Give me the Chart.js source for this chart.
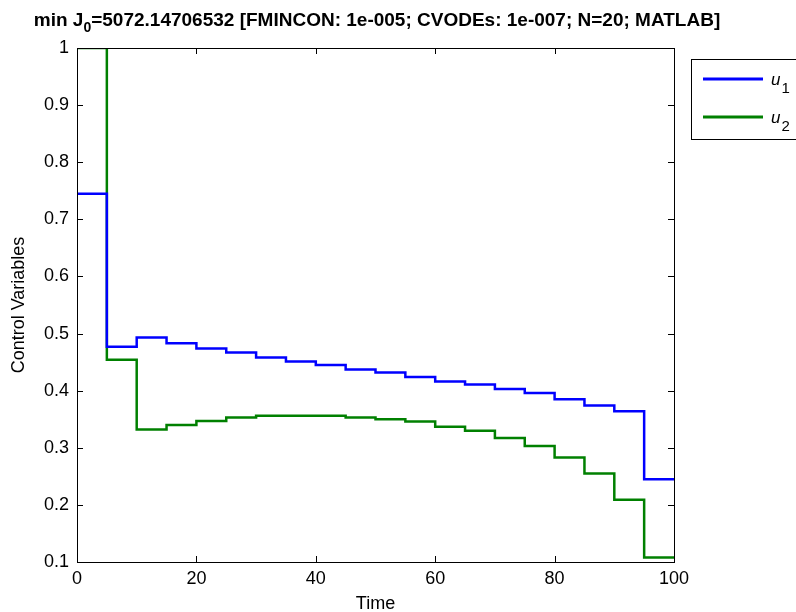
<!DOCTYPE html>
<html>
<head>
<meta charset="utf-8">
<script src="https://cdn.jsdelivr.net/npm/chart.js@4/dist/chart.umd.min.js"></script>
<style>
  html, body { margin: 0; padding: 0; background: #fff; }
  #wrap { width: 796px; height: 612px; }
</style>
</head>
<body>
<div id="wrap"><canvas id="ctrlChart" width="796" height="612"></canvas></div>
<script>
// control intervals (N=20), value held over each interval
const times = [0, 5, 10, 15, 20, 25, 30, 35, 40, 45, 50, 55, 60, 65, 70, 75, 80, 85, 90, 95, 100];
const u1 = [0.745, 0.477, 0.493, 0.483, 0.474, 0.467, 0.458, 0.451, 0.445, 0.437,
            0.432, 0.424, 0.416, 0.411, 0.403, 0.396, 0.385, 0.374, 0.364, 0.245];
const u2 = [1.0, 0.454, 0.332, 0.340, 0.347, 0.353, 0.356, 0.356, 0.356, 0.353,
            0.350, 0.346, 0.337, 0.330, 0.317, 0.303, 0.283, 0.255, 0.209, 0.108];
const xTicks = [0, 20, 40, 60, 80, 100];
const yTicks = [0.1, 0.2, 0.3, 0.4, 0.5, 0.6, 0.7, 0.8, 0.9, 1];

const FONT = "'Liberation Sans', Arial, Helvetica, sans-serif";

// piecewise constant: repeat last value at final time
const toSteps = (vals) => times.map((t, i) => ({ x: t, y: vals[Math.min(i, vals.length - 1)] }));

// box, inward ticks, title and legend drawn MATLAB style
const matlabFrame = {
  id: "matlabFrame",
  afterDraw: (chart) => {
    const ctx = chart.ctx;
    const { left, right, top, bottom } = chart.chartArea;
    const xs = chart.scales.x, ys = chart.scales.y;
    ctx.save();
    ctx.strokeStyle = "#000";
    ctx.lineWidth = 1;
    ctx.strokeRect(left + 0.5, top + 0.5, right - left, bottom - top);
    ctx.beginPath();
    xTicks.forEach((v) => {
      const px = Math.round(xs.getPixelForValue(v)) + 0.5;
      ctx.moveTo(px, bottom); ctx.lineTo(px, bottom - 6);
      ctx.moveTo(px, top); ctx.lineTo(px, top + 6);
    });
    yTicks.forEach((v) => {
      const py = Math.round(ys.getPixelForValue(v)) + 0.5;
      ctx.moveTo(left, py); ctx.lineTo(left + 6, py);
      ctx.moveTo(right, py); ctx.lineTo(right - 6, py);
    });
    ctx.stroke();

    // title with subscript
    ctx.fillStyle = "#000";
    ctx.textBaseline = "alphabetic";
    ctx.textAlign = "left";
    const parts = [
      ["min J", "bold 19px " + FONT, 0],
      ["0", "bold 14px " + FONT, 6],
      ["=5072.14706532 [FMINCON: 1e-005; CVODEs: 1e-007; N=20; MATLAB]", "bold 19px " + FONT, 0],
    ];
    let w = 0;
    parts.forEach(([t, f]) => { ctx.font = f; w += ctx.measureText(t).width; });
    let x = 377 - w / 2;
    parts.forEach(([t, f, dy]) => {
      ctx.font = f;
      ctx.fillText(t, x, 26 + dy);
      x += ctx.measureText(t).width;
    });

    // legend
    ctx.fillStyle = "#fff";
    ctx.fillRect(691, 59, 120, 80);
    ctx.strokeStyle = "#000";
    ctx.lineWidth = 1;
    ctx.strokeRect(691.5, 59.5, 120, 80);
    chart.data.datasets.forEach((ds, i) => {
      const ly = 79 + i * 38;
      ctx.strokeStyle = ds.borderColor;
      ctx.lineWidth = 3;
      ctx.beginPath();
      ctx.moveTo(703, ly); ctx.lineTo(763, ly);
      ctx.stroke();
      ctx.fillStyle = "#000";
      ctx.font = "italic 17px " + FONT;
      ctx.fillText("u", 771, ly + 6);
      const uw = ctx.measureText("u").width;
      ctx.font = "15px " + FONT;
      ctx.fillText(String(i + 1), 771 + uw + 1, ly + 14);
    });
    ctx.restore();
  },
};

new Chart(document.getElementById("ctrlChart").getContext("2d"), {
  type: "line",
  data: {
    datasets: [
      {
        label: "u1",
        data: toSteps(u1),
        borderColor: "#0000ff",
        borderWidth: 2.5,
        pointRadius: 0,
        stepped: true,
      },
      {
        label: "u2",
        data: toSteps(u2),
        borderColor: "#008000",
        borderWidth: 2.5,
        pointRadius: 0,
        stepped: true,
      },
    ],
  },
  options: {
    responsive: false,
    animation: false,
    layout: { padding: { left: 0, right: 122, top: 48, bottom: 0 } },
    plugins: {
      legend: { display: false },
      tooltip: { enabled: false },
    },
    scales: {
      x: {
        type: "linear",
        min: 0,
        max: 100,
        afterFit: (s) => { s.height = 50; },
        afterBuildTicks: (s) => { s.ticks = xTicks.map((v) => ({ value: v })); },
        grid: { display: false, drawTicks: false },
        border: { display: false },
        ticks: { color: "#000", padding: 6, font: { family: FONT, size: 18 } },
        title: {
          display: true,
          text: "Time",
          color: "#000",
          padding: { top: 0, bottom: -3 },
          font: { family: FONT, size: 18 },
        },
      },
      y: {
        min: 0.1,
        max: 1,
        afterFit: (s) => { s.width = 77; },
        afterBuildTicks: (s) => { s.ticks = yTicks.map((v) => ({ value: v })); },
        grid: { display: false, drawTicks: false },
        border: { display: false },
        ticks: {
          color: "#000",
          padding: 8,
          font: { family: FONT, size: 18 },
          callback: (v) => String(Math.round(v * 10) / 10),
        },
        title: {
          display: true,
          text: "Control Variables",
          color: "#000",
          padding: { top: 8, bottom: 0 },
          font: { family: FONT, size: 18 },
        },
      },
    },
  },
  plugins: [matlabFrame],
});
</script>
</body>
</html>
